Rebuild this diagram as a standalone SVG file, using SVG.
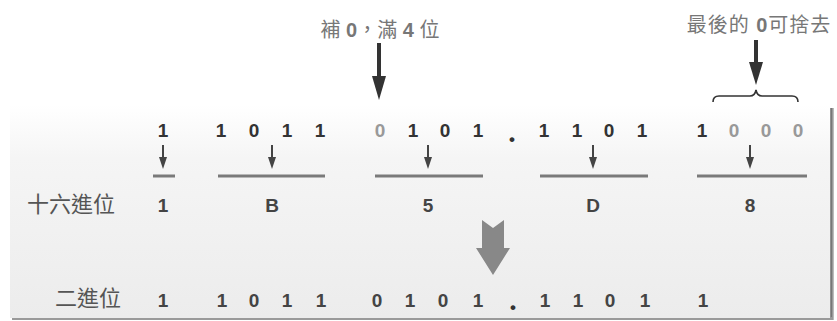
<svg xmlns="http://www.w3.org/2000/svg" width="837" height="321" viewBox="0 0 837 321">
<style>
  .dg { font-family: "Liberation Sans", Arial, sans-serif; font-size: 19px; font-weight: bold; fill: #333; text-anchor: middle; }
  .dl { fill: #999; }
  .db { font-family: "Liberation Sans", Arial, sans-serif; font-size: 19px; font-weight: bold; fill: #444; text-anchor: middle; }
  .pt { font-family: "Liberation Sans", Arial, sans-serif; font-size: 17px; font-weight: bold; fill: #333; text-anchor: middle; }
  .cj { font-family: "Liberation Sans", "Noto Sans CJK TC", sans-serif; font-size: 22px; fill: #555; }
  .an { font-family: "Liberation Sans", "Noto Sans CJK TC", sans-serif; font-size: 20px; fill: #777; text-anchor: middle; }
  .ul { stroke: #7a7a7a; stroke-width: 3; }
  .sa { stroke: #444; stroke-width: 2; }
  .sh { fill: #444; }
  .ba { fill: #333; }
</style>
<defs>
  <linearGradient id="panelGrad" x1="0" y1="0" x2="0" y2="1">
    <stop offset="0" stop-color="#ffffff"/>
    <stop offset="0.25" stop-color="#f5f5f5"/>
    <stop offset="1" stop-color="#ececec"/>
  </linearGradient>
  <linearGradient id="shadowGrad" x1="0" y1="0" x2="1" y2="0">
    <stop offset="0" stop-color="#bbbbbb"/>
    <stop offset="0.5" stop-color="#777777"/>
    <stop offset="1" stop-color="#cccccc"/>
  </linearGradient>
</defs>
<rect width="837" height="321" fill="#ffffff"/>
<g id="panel">
  <rect x="829" y="108" width="5" height="212" fill="url(#shadowGrad)"/>
  <rect x="12" y="317" width="821" height="3" fill="#9a9a9a"/>
  <rect x="10" y="105" width="820" height="213" fill="url(#panelGrad)"/>
</g>
<g id="note-pad">
  <text class="an" x="380" y="37">補 <tspan font-weight="bold">0</tspan>，滿 <tspan font-weight="bold">4</tspan> 位</text>
</g>
<g id="note-drop">
  <text class="an" x="759" y="32" letter-spacing="1">最後的 <tspan font-weight="bold">0</tspan>可捨去</text>
</g>
<g id="labels">
  <text class="cj" x="27" y="212">十六進位</text>
  <text class="cj" x="55" y="306">二進位</text>
</g>
<g id="group1">
  <text class="dg" x="163" y="137">1</text>
  <text class="db" x="163" y="212">1</text>
</g>
<g id="groupB">
  <text class="dg" x="221" y="137">1</text>
  <text class="dg" x="254" y="137">0</text>
  <text class="dg" x="287" y="137">1</text>
  <text class="dg" x="320" y="137">1</text>
  <text class="db" x="272" y="212">B</text>
</g>
<g id="group5">
  <text class="dg dl" x="380" y="137">0</text>
  <text class="dg" x="413" y="137">1</text>
  <text class="dg" x="445" y="137">0</text>
  <text class="dg" x="478" y="137">1</text>
  <text class="db" x="428" y="212">5</text>
</g>
<g id="point">
  <text class="pt" x="512" y="145">•</text>
</g>
<g id="groupD">
  <text class="dg" x="544" y="137">1</text>
  <text class="dg" x="577" y="137">1</text>
  <text class="dg" x="609" y="137">0</text>
  <text class="dg" x="642" y="137">1</text>
  <text class="db" x="593" y="212">D</text>
</g>
<g id="group8">
  <text class="dg" x="702" y="137">1</text>
  <text class="dg dl" x="734" y="137">0</text>
  <text class="dg dl" x="766" y="137">0</text>
  <text class="dg dl" x="798" y="137">0</text>
  <text class="db" x="750" y="212">8</text>
</g>
<g id="binary-row">
  <text class="db" x="163" y="307">1</text>
  <text class="db" x="222" y="307">1</text>
  <text class="db" x="254" y="307">0</text>
  <text class="db" x="287" y="307">1</text>
  <text class="db" x="321" y="307">1</text>
  <text class="db" x="377" y="307">0</text>
  <text class="db" x="410" y="307">1</text>
  <text class="db" x="443" y="307">0</text>
  <text class="db" x="478" y="307">1</text>
  <text class="pt" x="513" y="313">•</text>
  <text class="db" x="545" y="307">1</text>
  <text class="db" x="578" y="307">1</text>
  <text class="db" x="610" y="307">0</text>
  <text class="db" x="645" y="307">1</text>
  <text class="db" x="703" y="307">1</text>
</g>
<g id="connectors">
  <line class="ul" x1="153" y1="176" x2="175" y2="176"/>
  <line class="ul" x1="218" y1="176" x2="325" y2="176"/>
  <line class="ul" x1="375" y1="176" x2="483" y2="176"/>
  <line class="ul" x1="540" y1="176" x2="648" y2="176"/>
  <line class="ul" x1="697" y1="176" x2="807" y2="176"/>
  <line class="sa" x1="163" y1="145" x2="163" y2="160"/>
  <polygon class="sh" points="159,157 167,157 163,169"/>
  <line class="sa" x1="272" y1="145" x2="272" y2="160"/>
  <polygon class="sh" points="268,157 276,157 272,169"/>
  <line class="sa" x1="428" y1="145" x2="428" y2="160"/>
  <polygon class="sh" points="424,157 432,157 428,169"/>
  <line class="sa" x1="593" y1="145" x2="593" y2="160"/>
  <polygon class="sh" points="589,157 597,157 593,169"/>
  <line class="sa" x1="750" y1="145" x2="750" y2="160"/>
  <polygon class="sh" points="746,157 754,157 750,169"/>
  <rect class="ba" x="377" y="43" width="4" height="36"/>
  <polygon class="ba" points="372,76 386,76 379,100"/>
  <rect class="ba" x="754" y="40" width="4" height="25"/>
  <polygon class="ba" points="749,62 763,62 756,85"/>
  <path d="M713,102 Q713,96 719,96 L750,96 Q755,96 756,90 Q757,96 762,96 L792,96 Q798,96 798,102" fill="none" stroke="#333" stroke-width="1.6"/>
  <polygon fill="#888" points="482,220 493,228 504,220 504,248 510,248 493,275 476,248 482,248"/>
</g>
</svg>
